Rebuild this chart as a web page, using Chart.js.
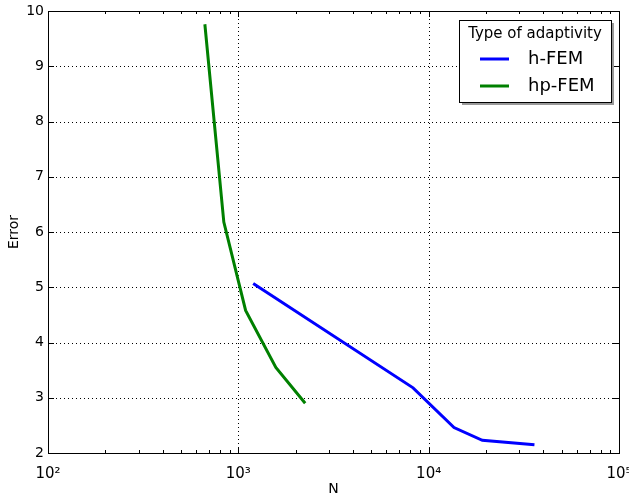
<!DOCTYPE html>
<html>
<head>
<meta charset="utf-8">
<script src="https://cdn.jsdelivr.net/npm/chart.js@4"></script>
<style>
  html, body { margin: 0; padding: 0; background: #fff; }
  #wrap { width: 629px; height: 499px; }
</style>
</head>
<body>
<div id="wrap"><canvas id="grafica"></canvas></div>
<script>
// datos
var hN = [1197, 8280, 13590, 19140, 35960];
var hErr = [5.07, 3.18, 2.46, 2.23, 2.15];
var hpN = [667, 839, 1092, 1574, 2245];
var hpErr = [9.76, 6.18, 4.58, 3.55, 2.90];
var xMajors = [100, 1000, 10000, 100000];
var xLabels = ["10\u00b2", "10\u00b3", "10\u2074", "10\u2075"];
var yTicks = [2, 3, 4, 5, 6, 7, 8, 9, 10];
var legendTitle = "Type of adaptivity";
var fuente = "'DejaVu Sans', sans-serif";

function puntos(xs, ys) {
    return xs.map(function(x, i) { return { x: x, y: ys[i] }; });
}

// rejilla punteada debajo de las lineas
var rejillaPlugin = {
    id: "rejilla",
    beforeDatasetsDraw: function(chart) {
        var ctx = chart.ctx;
        var a = chart.chartArea;
        var sx = chart.scales.x;
        var sy = chart.scales.y;
        ctx.save();
        ctx.strokeStyle = "#000";
        ctx.lineWidth = 1;
        ctx.setLineDash([1, 3]);
        ctx.beginPath();
        xMajors.forEach(function(v) {
            var px = Math.round(sx.getPixelForValue(v)) + 0.5;
            ctx.moveTo(px, a.top); ctx.lineTo(px, a.bottom);
        });
        yTicks.forEach(function(v) {
            var py = Math.round(sy.getPixelForValue(v)) + 0.5;
            ctx.moveTo(a.left, py); ctx.lineTo(a.right, py);
        });
        ctx.stroke();
        ctx.restore();
    }
};

// marco, ticks hacia adentro y leyenda al estilo matplotlib
var marcoPlugin = {
    id: "marco",
    afterDraw: function(chart) {
        var ctx = chart.ctx;
        var a = chart.chartArea;
        var sx = chart.scales.x;
        var sy = chart.scales.y;
        ctx.save();
        ctx.strokeStyle = "#000";
        ctx.lineWidth = 1;
        ctx.beginPath();
        for (var d = 100; d < 100000; d *= 10) {
            for (var k = 1; k <= 9; k++) {
                var px = Math.round(sx.getPixelForValue(d * k)) + 0.5;
                var len = k == 1 ? 6 : 3;
                ctx.moveTo(px, a.bottom); ctx.lineTo(px, a.bottom - len);
                ctx.moveTo(px, a.top); ctx.lineTo(px, a.top + len);
            }
        }
        yTicks.forEach(function(v) {
            var py = Math.round(sy.getPixelForValue(v)) + 0.5;
            ctx.moveTo(a.left, py); ctx.lineTo(a.left + 6, py);
            ctx.moveTo(a.right, py); ctx.lineTo(a.right - 6, py);
        });
        ctx.stroke();
        ctx.strokeRect(Math.round(a.left) + 0.5, Math.round(a.top) + 0.5,
            Math.round(a.right - a.left), Math.round(a.bottom - a.top));

        // leyenda
        var bx = 459, by = 20, bw = 152, bh = 82;
        ctx.fillStyle = "#999";
        ctx.fillRect(bx + 3, by + 3, bw, bh);
        ctx.fillStyle = "#fff";
        ctx.fillRect(bx, by, bw, bh);
        ctx.strokeStyle = "#000";
        ctx.strokeRect(bx + 0.5, by + 0.5, bw, bh);
        ctx.fillStyle = "#000";
        ctx.textBaseline = "middle";
        ctx.textAlign = "center";
        ctx.font = "15px " + fuente;
        ctx.fillText(legendTitle, bx + bw / 2, by + 14);
        ctx.textAlign = "left";
        ctx.font = "18px " + fuente;
        chart.data.datasets.forEach(function(ds, i) {
            var ly = by + 39 + i * 27;
            ctx.strokeStyle = ds.borderColor;
            ctx.lineWidth = 3;
            ctx.beginPath();
            ctx.moveTo(bx + 21, ly);
            ctx.lineTo(bx + 50, ly);
            ctx.stroke();
            ctx.fillStyle = "#000";
            ctx.fillText(ds.label, bx + 69, ly);
        });
        ctx.restore();
    }
};

var ctx = document.getElementById("grafica").getContext("2d");
var grafica = new Chart(ctx, {
    type: "scatter",
    data: {
        datasets: [
            { label: "h-FEM", data: puntos(hN, hErr), showLine: true, borderColor: "#0000ff", borderWidth: 3, pointRadius: 0, fill: false },
            { label: "hp-FEM", data: puntos(hpN, hpErr), showLine: true, borderColor: "#008000", borderWidth: 3, pointRadius: 0, fill: false }
        ]
    },
    options: {
        responsive: true,
        maintainAspectRatio: false,
        animation: false,
        layout: { padding: { top: 11, right: 10, left: 0, bottom: 0 }, autoPadding: false },
        plugins: { legend: { display: false }, tooltip: { enabled: false } },
        scales: {
            x: {
                type: "logarithmic",
                min: 100,
                max: 100000,
                afterBuildTicks: function(scale) {
                    scale.ticks = xMajors.map(function(v) { return { value: v }; });
                },
                afterFit: function(scale) {
                    scale.height = 46;
                    scale.paddingLeft = 0;
                    scale.paddingRight = 0;
                },
                ticks: {
                    color: "#000",
                    font: { family: fuente, size: 15 },
                    padding: 12,
                    maxRotation: 0,
                    autoSkip: false,
                    callback: function(value) {
                        var i = xMajors.indexOf(value);
                        return i >= 0 ? xLabels[i] : "";
                    }
                },
                grid: { display: false, drawTicks: false },
                border: { display: false },
                title: { display: true, text: "N", color: "#000", font: { family: fuente, size: 14 }, padding: { top: 0, bottom: 1 } }
            },
            y: {
                min: 2,
                max: 10,
                afterBuildTicks: function(scale) {
                    scale.ticks = yTicks.map(function(v) { return { value: v }; });
                },
                afterFit: function(scale) {
                    scale.width = 48;
                    scale.paddingTop = 0;
                    scale.paddingBottom = 0;
                },
                ticks: {
                    color: "#000",
                    font: { family: fuente, size: 14 },
                    padding: 4
                },
                grid: { display: false, drawTicks: false },
                border: { display: false },
                title: { display: true, text: "Error", color: "#000", font: { family: fuente, size: 14 }, padding: { top: 6, bottom: 0 } }
            }
        }
    },
    plugins: [rejillaPlugin, marcoPlugin]
});
</script>
</body>
</html>
